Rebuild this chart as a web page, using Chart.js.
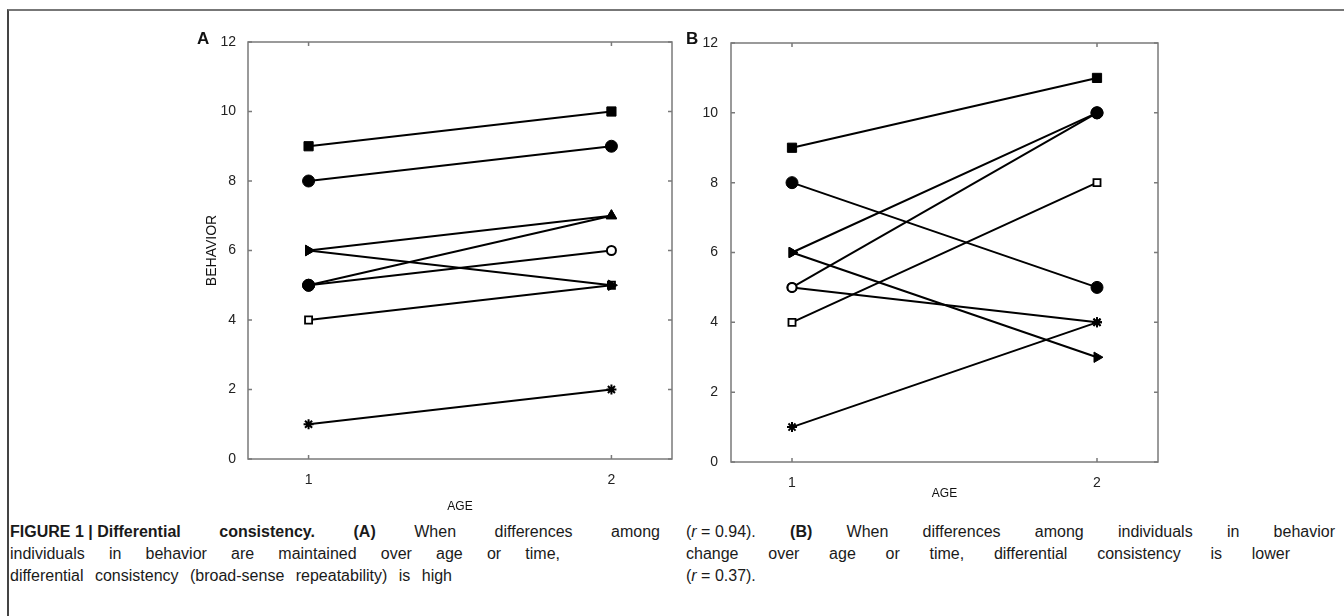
<!DOCTYPE html>
<html>
<head>
<meta charset="utf-8">
<script src="https://cdn.jsdelivr.net/npm/chart.js@4.4.1/dist/chart.umd.min.js"></script>
<style>
  body { margin: 0; width: 1344px; height: 616px; position: relative; background: #fff; overflow: hidden;
         font-family: 'Liberation Sans', Arial, sans-serif; color: #111; }
  #frame { position: absolute; left: 7px; top: 9px; width: 1336px; height: 620px;
           border-left: 2px solid #444; border-top: 2px solid #777; }
  canvas { position: absolute; }
  .lab { position: absolute; font-weight: bold; font-size: 17px; line-height: 17px; }
  .cap { position: absolute; font-family: 'Liberation Sans Narrow', 'Liberation Sans', Arial, sans-serif;
         font-size: 16px; line-height: 22px; color: #1a1a1a; }
  .cap div { text-align: justify; text-align-last: justify; }
  .cap div.last { text-align-last: left; }
  .keep { display: inline-block; }
</style>
</head>
<body>
<div id="frame"></div>
<canvas id="chartA" width="490" height="500" style="left:200px;top:20px"></canvas>
<canvas id="chartB" width="490" height="500" style="left:700px;top:20px"></canvas>
<div class="lab" style="left:197px;top:30px">A</div>
<div class="lab" style="left:686px;top:30px">B</div>

<div class="cap" style="left:10px;top:521px">
  <div style="width:650px"><b><span class="keep">FIGURE 1 | Differential</span> consistency. (A)</b> When differences among</div>
  <div style="width:550px">individuals in behavior are maintained over age or time,</div>
  <div style="width:442px">differential consistency (broad-sense repeatability) is high</div>
</div>
<div class="cap" style="left:686px;top:521px">
  <div style="width:649px"><span class="keep">(<i>r</i> = 0.94).</span> <b>(B)</b> When differences among individuals in behavior</div>
  <div style="width:604px">change over age or time, differential consistency is lower</div>
  <div class="last"><span class="keep">(<i>r</i> = 0.37).</span></div>
</div>

<script>
// ages on the x axis, one value per individual per panel
const ages = [1, 2];
const xTicks = [1, 2];
const yMin = 0, yMax = 12, yStep = 2;

// panel A: differences kept over age
const panelA_age1 = [9, 8, 6, 6, 5, 5, 4, 1];
const panelA_age2 = [10, 9, 7, 5, 7, 6, 5, 2];

// panel B: differences change over age
const panelB_age1 = [9, 8, 6, 6, 5, 5, 4, 1];
const panelB_age2 = [11, 5, 10, 3, 10, 4, 8, 4];

// marker looks, one per point [age1, age2]
const markers = {
  sq:   { style: 'rect', fill: true, r: 6.5, rot: 0, bw: 1 },
  dot:  { style: 'circle', fill: true, r: 6, rot: 0, bw: 1 },
  up:   { style: 'triangle', fill: true, r: 6, rot: 0, bw: 1 },
  right:{ style: 'triangle', fill: true, r: 6, rot: 90, bw: 1 },
  ring: { style: 'circle', fill: false, r: 4.5, rot: 0, bw: 2 },
  box:  { style: 'rect', fill: false, r: 5, rot: 0, bw: 1.8 },
  ast:  { style: 'star', fill: true, r: 5, rot: 0, bw: 2 }
};
const marksA = [['sq','sq'], ['dot','dot'], ['right','up'], ['right','right'], ['dot','up'], ['dot','ring'], ['box','box'], ['ast','ast']];
const marksB = [['sq','sq'], ['dot','dot'], ['right','dot'], ['right','right'], ['ring','dot'], ['ring','ast'], ['box','box'], ['ast','ast']];

function makeSets(v1, v2, marks) {
  return v1.map((a, i) => {
    const m = marks[i].map(k => markers[k]);
    return {
      data: [{ x: ages[0], y: a }, { x: ages[1], y: v2[i] }],
      showLine: true,
      borderColor: '#000',
      borderWidth: 2,
      pointStyle: m.map(p => p.style),
      pointRadius: m.map(p => p.r),
      pointRotation: m.map(p => p.rot),
      pointBorderWidth: m.map(p => p.bw),
      pointBorderColor: '#000',
      pointBackgroundColor: m.map(p => p.fill ? '#000' : '#fff')
    };
  });
}

// box round the plot with small inward ticks
const boxPlugin = {
  id: 'box',
  afterDraw(chart) {
    const { ctx, chartArea: a, scales } = chart;
    ctx.save();
    ctx.strokeStyle = '#7a7a7a';
    ctx.lineWidth = 1.5;
    ctx.strokeRect(a.left, a.top, a.right - a.left, a.bottom - a.top);
    ctx.beginPath();
    scales.y.ticks.forEach(t => {
      const y = scales.y.getPixelForValue(t.value);
      ctx.moveTo(a.left, y); ctx.lineTo(a.left + 4, y);
      ctx.moveTo(a.right, y); ctx.lineTo(a.right - 4, y);
    });
    scales.x.ticks.forEach(t => {
      const x = scales.x.getPixelForValue(t.value);
      ctx.moveTo(x, a.bottom); ctx.lineTo(x, a.bottom - 4);
      ctx.moveTo(x, a.top); ctx.lineTo(x, a.top + 4);
    });
    ctx.stroke();
    ctx.restore();
  }
};

function makeChart(id, sets, o) {
  return new Chart(document.getElementById(id), {
    type: 'scatter',
    data: { datasets: sets },
    options: {
      responsive: false,
      devicePixelRatio: 1,
      animation: false,
      layout: { padding: { left: 0, top: o.top, right: o.right, bottom: 0 } },
      plugins: { legend: { display: false }, tooltip: { enabled: false } },
      scales: {
        x: {
          min: 0.8, max: 2.2,
          afterBuildTicks: s => { s.ticks = xTicks.map(v => ({ value: v })); },
          afterFit: s => { s.height = o.xh; },
          grid: { display: false },
          border: { display: false },
          ticks: { color: '#222', font: { family: 'Liberation Sans', size: 14 }, padding: o.xpad },
          title: { display: true, text: 'AGE', color: '#111', font: { family: 'Liberation Sans', size: 12 }, padding: { top: 0, bottom: o.agePad } }
        },
        y: {
          min: yMin, max: yMax,
          afterFit: s => { s.width = o.yw; },
          grid: { display: false },
          border: { display: false },
          ticks: { stepSize: yStep, color: '#222', font: { family: 'Liberation Sans', size: 14 }, padding: o.ypad },
          title: { display: o.ytitle, text: 'BEHAVIOR', color: '#111', font: { family: 'Liberation Sans', size: 14 }, padding: { top: 4, bottom: 0 } }
        }
      }
    },
    plugins: [boxPlugin]
  });
}

makeChart('chartA', makeSets(panelA_age1, panelA_age2, marksA),
  { top: 22, right: 18, xh: 61, yw: 48, xpad: 5, ypad: 4, agePad: 6, ytitle: true });
makeChart('chartB', makeSets(panelB_age1, panelB_age2, marksB),
  { top: 23, right: 32, xh: 58, yw: 31, xpad: 5, ypad: 5, agePad: 19, ytitle: false });
</script>
</body>
</html>
